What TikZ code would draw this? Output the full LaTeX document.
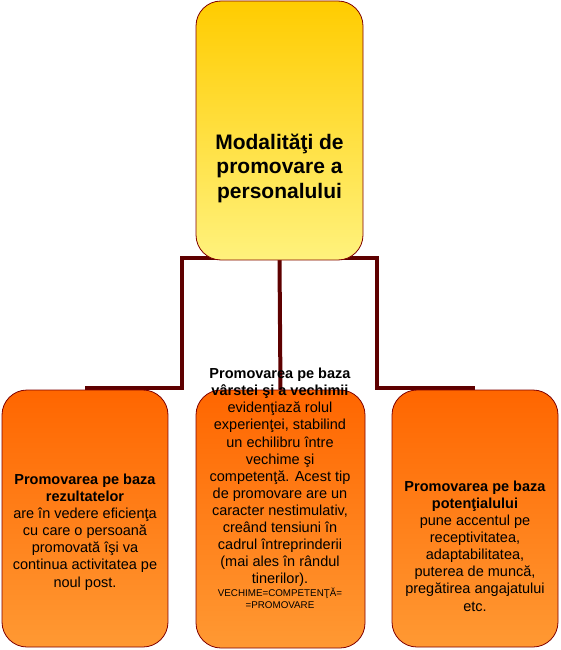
\documentclass[tikz,border=0pt]{standalone}
\usepackage{fontspec}
\setmainfont{Liberation Sans}
\begin{document}
\begin{tikzpicture}[x=1pt,y=-1pt,
  conn/.style={draw={rgb,255:red,94;green,0;blue,0},line width=4pt,line join=miter},
  boxbase/.style={draw={rgb,255:red,128;green,0;blue,0},line width=0.8pt,rounded corners=25pt,inner sep=0pt},
  topbox/.style={boxbase,top color={rgb,255:red,255;green,204;blue,0},bottom color={rgb,255:red,255;green,242;blue,125}},
  orbox/.style={boxbase,top color={rgb,255:red,255;green,102;blue,0},bottom color={rgb,255:red,255;green,153;blue,51},minimum width=166pt,minimum height=257pt},
  bodytxt/.style={align=center,font=\fontsize{14.5}{17.1}\selectfont,inner sep=0pt}
]
\useasboundingbox (0,0) rectangle (560,650);
% connectors (behind boxes)
\coordinate (tl) at (182,258);
\coordinate (tr) at (377,258);
\coordinate (bl) at (182,388);
\coordinate (br) at (377,388);
\path (85,518.5) node[minimum width=166pt,minimum height=257pt,inner sep=0pt] (leftp) {};
\path (475,518.5) node[minimum width=166pt,minimum height=257pt,inner sep=0pt] (rightp) {};
\path (279.5,130.5) node[minimum width=167pt,minimum height=259pt,inner sep=0pt] (topp) {};
\path (280.5,519) node[minimum width=169pt,minimum height=258pt,inner sep=0pt] (midp) {};
\draw[conn] (leftp.north |- bl) -- (bl) -- (tl) -- (tr) -- (br) -- (rightp.north |- br);
\draw[conn] (topp.south) -- (midp.north);
% boxes
\node[topbox,minimum width=167pt,minimum height=259pt] (top) at (279.5,130.5) {};
\node[orbox] (left) at (85,518.5) {};
\node[orbox,minimum width=169pt,minimum height=258pt] (mid) at (280.5,519) {};
\node[orbox] (right) at (475,518.5) {};
% texts
\node[align=center,font=\fontsize{21}{24.5}\selectfont\bfseries,inner sep=0pt] (toptxt) at (279.5,168)
  {Modalităţi de\\promovare a\\personalului};
\node[bodytxt] (lefttxt) at (85,532)
  {\textbf{Promovarea pe baza}\\\textbf{rezultatelor}\\are în vedere eficienţa\\cu care o persoană\\promovată îşi va\\continua activitatea pe\\noul post.};
\node[bodytxt] (midtxt) at (280,477.5)
  {\textbf{Promovarea pe baza}\\\textbf{vârstei şi a vechimii}\\evidenţiază rolul\\experienţei, stabilind\\un echilibru între\\vechime şi\\competenţă. Acest tip\\de promovare are un\\caracter nestimulativ,\\creând tensiuni în\\cadrul întreprinderii\\(mai ales în rândul\\tinerilor).};
\node[align=center,font=\fontsize{9.8}{12}\selectfont,inner sep=0pt] (midsmall) at (280,598)
  {VECHIME=COMPETENŢĂ=\\=PROMOVARE};
\node[bodytxt] (righttxt) at (475,546)
  {\textbf{Promovarea pe baza}\\\textbf{potenţialului}\\pune accentul pe\\receptivitatea,\\adaptabilitatea,\\puterea de muncă,\\pregătirea angajatului\\etc.};
\end{tikzpicture}
\end{document}
